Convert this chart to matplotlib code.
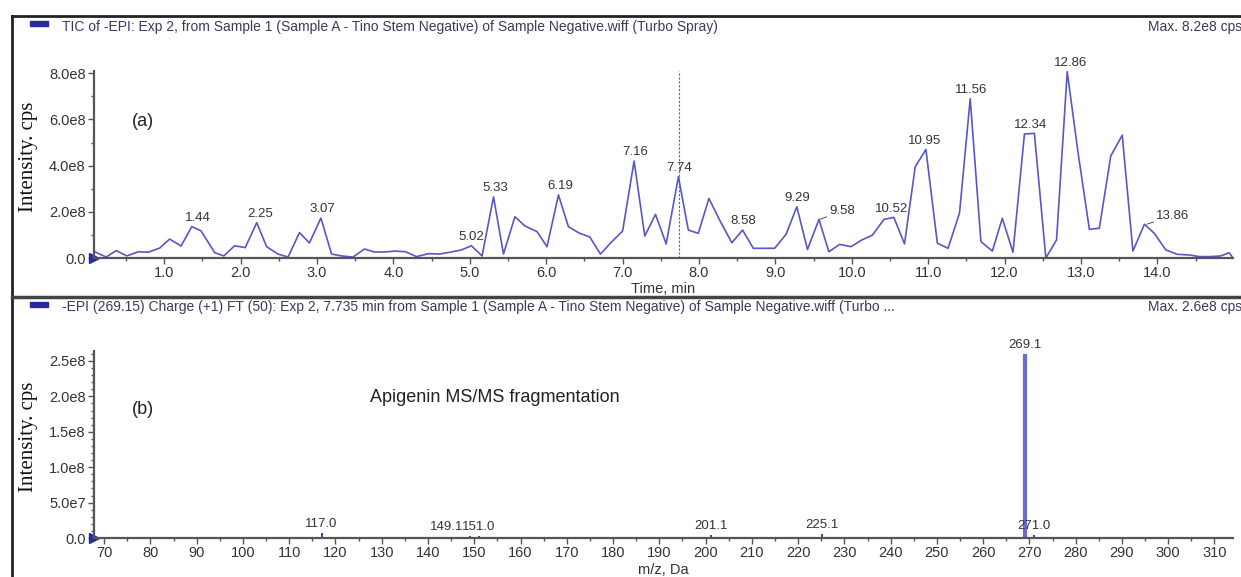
import matplotlib.pyplot as plt
import numpy as np
from matplotlib.ticker import MultipleLocator, FuncFormatter
from matplotlib.lines import Line2D
from matplotlib.patches import Rectangle

plt.rcParams['font.family'] = ['Liberation Sans', 'DejaVu Sans']

# (a) TIC chromatogram, intensity in units of 1e8 cps
tic_time = [0.09, 0.24, 0.37, 0.51, 0.66, 0.79, 0.94, 1.07, 1.22, 1.36,
            1.48, 1.66, 1.78, 1.92, 2.06, 2.21, 2.34, 2.49, 2.62, 2.77,
            2.90, 3.05, 3.19, 3.32, 3.47, 3.62, 3.75, 3.88, 4.02, 4.16,
            4.30, 4.46, 4.60, 4.74, 4.89, 5.02, 5.16, 5.31, 5.44, 5.59,
            5.72, 5.88, 6.01, 6.16, 6.29, 6.43, 6.57, 6.71, 6.86, 7.00,
            7.15, 7.29, 7.43, 7.57, 7.73, 7.86, 7.99, 8.13, 8.27, 8.43,
            8.57, 8.71, 8.85, 8.99, 9.14, 9.28, 9.42, 9.57, 9.70, 9.84,
            9.99, 10.13, 10.27, 10.42, 10.55, 10.69, 10.83, 10.97, 11.12, 11.26,
            11.41, 11.55, 11.69, 11.84, 11.97, 12.11, 12.26, 12.39, 12.54, 12.68,
            12.82, 12.96, 13.11, 13.24, 13.39, 13.54, 13.68, 13.83, 13.96, 14.11,
            14.26, 14.42, 14.55, 14.70, 14.83, 14.94, 14.99]
tic_intensity = [0.27, 0.04, 0.32, 0.09, 0.27, 0.25, 0.43, 0.82, 0.52, 1.36,
                 1.18, 0.23, 0.09, 0.53, 0.45, 1.53, 0.49, 0.17, 0.04, 1.10,
                 0.65, 1.73, 0.17, 0.09, 0.04, 0.39, 0.26, 0.26, 0.30, 0.27,
                 0.06, 0.19, 0.17, 0.25, 0.35, 0.53, 0.09, 2.65, 0.17, 1.79,
                 1.39, 1.14, 0.49, 2.73, 1.36, 1.08, 0.91, 0.17, 0.71, 1.17,
                 4.20, 0.95, 1.89, 0.61, 3.52, 1.21, 1.07, 2.58, 1.64, 0.66,
                 1.21, 0.42, 0.42, 0.42, 1.03, 2.22, 0.37, 1.67, 0.27, 0.59,
                 0.49, 0.78, 0.99, 1.67, 1.76, 0.61, 3.95, 4.70, 0.64, 0.42,
                 1.95, 6.90, 0.71, 0.30, 1.72, 0.25, 5.37, 5.40, 0.00, 0.78,
                 8.07, 4.60, 1.24, 1.29, 4.42, 5.32, 0.30, 1.46, 1.07, 0.35,
                 0.16, 0.13, 0.06, 0.06, 0.09, 0.23, 0.00]
tic_peaks = [1.44, 2.25, 3.07, 5.02, 5.33, 6.19, 7.16, 7.74, 8.58, 9.29,
             9.58, 10.52, 10.95, 11.56, 12.34, 12.86, 13.86]
leader_peaks = [9.58, 13.86]
selected_time = 7.735

# (b) MS/MS spectrum, intensity in 1e8 cps
ms_mz = [107.0, 117.0, 149.1, 151.0, 159.0, 181.0, 183.0, 201.1, 225.1, 227.0, 269.1, 271.0]
ms_intensity = [0.02, 0.07, 0.03, 0.03, 0.02, 0.015, 0.015, 0.04, 0.06, 0.02, 2.60, 0.04]
ms_labelled = ['', '117.0', '149.1', '151.0', '', '', '', '201.1', '225.1', '', '269.1', '271.0']
ms_label_shift = [0, 0, -17, 0, 0, 0, 0, 0, 0, 0, 0, 0]

W, H = 1241, 577
fig = plt.figure(figsize=(W / 100, H / 100), dpi=100)

line_col = '#5858c4'
axis_col = '#555555'
text_col = '#333333'
tick_fs = 10.5
peak_fs = 9.5


def fx(px):
    return px / W


def fy(py):
    return 1 - py / H


def sci_fmt(v, pos):
    if abs(v) < 1e-9:
        return '0.0'
    e = int(np.floor(np.log10(abs(v))))
    m = v / 10 ** e
    return f'{m:.1f}e{e}'


def style_axes(ax):
    for s in ['top', 'right']:
        ax.spines[s].set_visible(False)
    for s in ['left', 'bottom']:
        ax.spines[s].set_color(axis_col)
        ax.spines[s].set_linewidth(1.6)
    ax.tick_params(which='major', length=4, width=1, color=axis_col,
                   labelsize=tick_fs, labelcolor=text_col, pad=2)
    ax.tick_params(which='minor', length=2.5, width=1, color=axis_col)
    ax.plot([0], [0], transform=ax.get_yaxis_transform(), marker='>',
            color='#2a2aa0', markersize=7, clip_on=False)


# ---- top panel ----
ax1 = fig.add_axes([fx(94), fy(258), fx(1233 - 94), (258 - 71) / H])
t = np.array(tic_time)
inten = np.array(tic_intensity) * 1e8
ax1.plot(t, inten, color=line_col, lw=1.2)
ax1.axvline(selected_time, color='#666666', ls=(0, (2, 1.5)), lw=0.8)
ax1.set_xlim(0.08, 14.99)
ax1.set_ylim(0, 8.1e8)
ax1.xaxis.set_major_locator(MultipleLocator(1.0))
ax1.xaxis.set_minor_locator(MultipleLocator(0.5))
ax1.yaxis.set_major_locator(MultipleLocator(2e8))
ax1.yaxis.set_minor_locator(MultipleLocator(1e8))
ax1.xaxis.set_major_formatter(FuncFormatter(lambda v, p: f'{v:.1f}'))
ax1.yaxis.set_major_formatter(FuncFormatter(sci_fmt))
style_axes(ax1)
ax1.set_xticks([v for v in ax1.get_xticks() if 1.0 <= v <= 14.0])
ax1.set_xlabel('Time, min', fontsize=tick_fs, color=text_col, labelpad=1)

for pk in tic_peaks:
    near = np.abs(t - pk) <= 0.1
    yv = inten[near].max()
    if pk in leader_peaks:
        ax1.annotate(f'{pk:.2f}', xy=(pk, yv), xytext=(7, 2), textcoords='offset points',
                     ha='left', va='bottom', fontsize=peak_fs, color=text_col,
                     arrowprops=dict(arrowstyle='-', color=text_col, lw=0.6,
                                     shrinkA=0, shrinkB=0))
    else:
        ax1.annotate(f'{pk:.2f}', xy=(pk, yv), xytext=(0, 2), textcoords='offset points',
                     ha='center', va='bottom', fontsize=peak_fs, color=text_col)

fig.text(fx(132), fy(121), '(a)', fontsize=13, color='#222222', va='center')

# ---- bottom panel ----
ax2 = fig.add_axes([fx(94), fy(538), fx(1233 - 94), (538 - 351) / H])
mz = np.array(ms_mz)
mi = np.array(ms_intensity) * 1e8
big = mi > 1e8
ax2.vlines(mz[~big], 0, mi[~big], color='#3030a8', lw=1.3)
ax2.vlines(mz[big], 0, mi[big], color='#6a6ad0', lw=3.0)
ax2.set_xlim(67.8, 314)
ax2.set_ylim(0, 2.64e8)
ax2.xaxis.set_major_locator(MultipleLocator(10))
ax2.xaxis.set_minor_locator(MultipleLocator(5))
ax2.yaxis.set_major_locator(MultipleLocator(5e7))
ax2.yaxis.set_minor_locator(MultipleLocator(1e7))
ax2.xaxis.set_major_formatter(FuncFormatter(lambda v, p: f'{v:.0f}'))
ax2.yaxis.set_major_formatter(FuncFormatter(sci_fmt))
style_axes(ax2)
ax2.set_xlabel('m/z, Da', fontsize=tick_fs, color=text_col, labelpad=2)

for x, y, lab, sh in zip(mz, mi, ms_labelled, ms_label_shift):
    if lab:
        ax2.annotate(lab, xy=(x, y), xytext=(sh, 2), textcoords='offset points',
                     ha='center', va='bottom', fontsize=peak_fs, color=text_col)

fig.text(fx(132), fy(410), '(b)', fontsize=13, color='#222222', va='center')
fig.text(fx(370), fy(397), 'Apigenin MS/MS fragmentation', fontsize=13,
         color='#222222', va='center')

# y labels
for yc in [157, 437]:
    fig.text(fx(28), fy(yc), 'Intensity. cps', rotation=90, fontsize=15,
             family='Liberation Serif', color='#111111', ha='center', va='center')

# headers
hdr_col = '#3a3a5a'
hdr_fs = 10
fig.text(fx(62), fy(27), 'TIC of -EPI: Exp 2, from Sample 1 (Sample A - Tino Stem Negative) '
         'of Sample Negative.wiff (Turbo Spray)', fontsize=hdr_fs, color=hdr_col, va='center')
fig.text(fx(1148), fy(27), 'Max. 8.2e8 cps', fontsize=hdr_fs, color=hdr_col, va='center')
fig.text(fx(62), fy(307), '-EPI (269.15) Charge (+1) FT (50): Exp 2, 7.735 min from Sample 1 '
         '(Sample A - Tino Stem Negative) of Sample Negative.wiff (Turbo ...',
         fontsize=hdr_fs, color=hdr_col, va='center')
fig.text(fx(1148), fy(307), 'Max. 2.6e8 cps', fontsize=hdr_fs, color=hdr_col, va='center')
for yy in [21, 302]:
    fig.patches.append(Rectangle((fx(30), fy(yy + 5)), fx(18), 5 / H,
                                 transform=fig.transFigure, color='#2a2aa0'))

# frame lines
frame = dict(transform=fig.transFigure, color='#222222', lw=2)
fig.lines.append(Line2D([fx(12), 1], [fy(16), fy(16)], **frame))
fig.lines.append(Line2D([fx(12), fx(12)], [fy(16), 0], **frame))
fig.lines.append(Line2D([fx(12), 1], [fy(297), fy(297)], color='#444444',
                        lw=2.5, transform=fig.transFigure))

fig.savefig('out.png', dpi=100)
